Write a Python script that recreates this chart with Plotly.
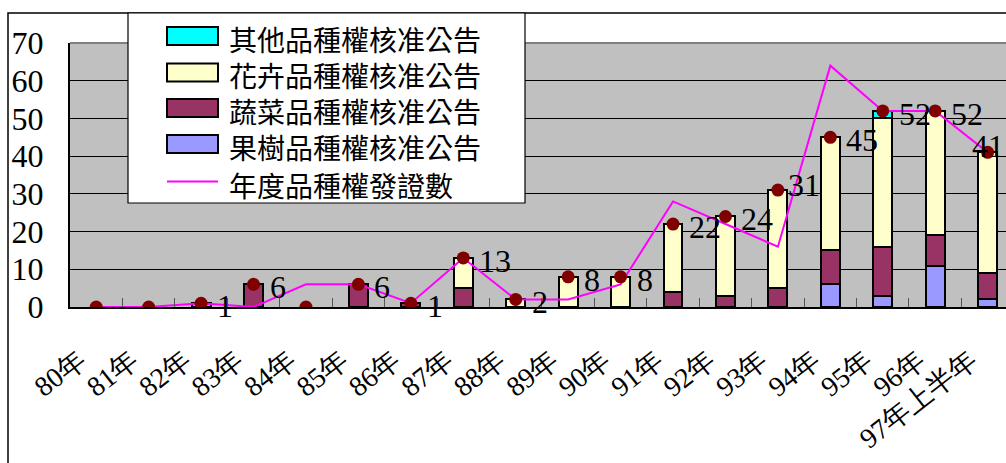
import plotly.graph_objects as go

# 年度別品種權核准公告 (80年 ~ 97年上半年)
years = ["80年", "81年", "82年", "83年", "84年", "85年", "86年", "87年", "88年",
         "89年", "90年", "91年", "92年", "93年", "94年", "95年", "96年", "97年上半年"]
fruit = [0, 0, 1, 0, 0, 0, 0, 0, 0, 0, 0, 0, 0, 0, 6, 3, 11, 2]        # 果樹
vegetable = [0, 0, 0, 6, 0, 6, 1, 5, 0, 0, 0, 4, 3, 5, 9, 13, 8, 7]    # 蔬菜
flower = [0, 0, 0, 0, 0, 0, 0, 8, 2, 8, 8, 18, 21, 26, 30, 34, 33, 32]  # 花卉
other = [0, 0, 0, 0, 0, 0, 0, 0, 0, 0, 0, 0, 0, 0, 0, 2, 0, 0]          # 其他
certificates = [0, 0, 1, 0, 6, 6, 1, 13, 2, 2, 6, 28, 22, 16, 64, 52, 52, 41]  # 年度品種權發證數

series_names = ["果樹品種權核准公告", "蔬菜品種權核准公告", "花卉品種權核准公告", "其他品種權核准公告"]
line_name = "年度品種權發證數"

totals = [a + b + c + d for a, b, c, d in zip(fruit, vegetable, flower, other)]

W, H = 1006, 463
ML, MT, MB = 70, 43, 156
PW, PH = W - ML, H - MT - MB

SERIF = "Liberation Serif, Times New Roman, DejaVu Serif, serif"
CJK = "Noto Sans CJK TC"
colors = ["#9999FF", "#993366", "#FFFFCC", "#00FFFF"]


def px(x):
    return (x - ML) / PW


def py(y):
    return (MT + PH - y) / PH


def nz(vals):
    return [v if v else None for v in vals]


fig = go.Figure()
for name, vals, col in zip(series_names, [fruit, vegetable, flower, other], colors):
    fig.add_trace(go.Bar(
        x=years, y=nz(vals), name=name, width=0.36,
        marker=dict(color=col, line=dict(color="black", width=2)),
    ))

fig.add_trace(go.Scatter(
    x=years, y=certificates, name=line_name, mode="lines",
    line=dict(color="#FF00FF", width=2),
))
fig.add_trace(go.Scatter(
    x=years, y=totals, mode="markers", showlegend=False,
    marker=dict(color="#800000", size=13),
))

# value labels beside the total markers
label_nudge = {"93年": (-6, 8), "97年上半年": (-32, 9)}
annotations = []
for yr, t in zip(years, totals):
    if t == 0:
        continue
    dx, dy = label_nudge.get(yr, (0, 0))
    annotations.append(dict(
        x=yr, y=t, xref="x", yref="y", text=str(t), showarrow=False,
        xanchor="left", yanchor="middle", xshift=15 + dx, yshift=-3 + dy,
        borderpad=0, font=dict(family=SERIF, size=32, color="black"),
    ))

# legend box
LX0, LX1, LY0, LY1 = 128, 525, 13, 203
shapes = [
    dict(type="rect", xref="paper", yref="paper", x0=px(8), x1=px(1012), y0=py(13), y1=py(470),
         line=dict(color="black", width=1.5), fillcolor="rgba(0,0,0,0)", layer="above"),
    dict(type="line", xref="paper", yref="paper", x0=0, x1=1, y0=1, y1=1,
         line=dict(color="#808080", width=2), layer="above"),
    dict(type="rect", xref="paper", yref="paper", x0=px(LX0), x1=px(LX1), y0=py(LY0), y1=py(LY1),
         line=dict(color="black", width=1.2), fillcolor="white", layer="above"),
]
legend_rows = [
    (series_names[3], colors[3], 36),
    (series_names[2], colors[2], 72.5),
    (series_names[1], colors[1], 108),
    (series_names[0], colors[0], 144),
]
for name, col, cy in legend_rows:
    shapes.append(dict(type="rect", xref="paper", yref="paper",
                       x0=px(167), x1=px(218), y0=py(cy - 9), y1=py(cy + 9),
                       fillcolor=col, line=dict(color="black", width=2), layer="above"))
    annotations.append(dict(x=px(228), y=py(cy + 3), xref="paper", yref="paper", text=name,
                            showarrow=False, xanchor="left", yanchor="middle",
                            height=30, borderpad=0,
                            font=dict(family=CJK, size=28, color="black")))
shapes.append(dict(type="line", xref="paper", yref="paper", x0=px(167), x1=px(218),
                   y0=py(181.5), y1=py(181.5), line=dict(color="#FF00FF", width=2), layer="above"))
annotations.append(dict(x=px(228), y=py(184.5), xref="paper", yref="paper", text=line_name,
                        showarrow=False, xanchor="left", yanchor="middle",
                        height=30, borderpad=0,
                        font=dict(family=CJK, size=28, color="black")))

fig.update_layout(
    width=W, height=H,
    margin=dict(l=ML, r=0, t=MT, b=MB, pad=0, autoexpand=False),
    paper_bgcolor="white", plot_bgcolor="#C0C0C0",
    barmode="stack", bargap=0.6, showlegend=False,
    shapes=shapes, annotations=annotations,
    xaxis=dict(
        type="category", range=[-0.5, 17.35], automargin=False,
        showline=True, linecolor="black", linewidth=1.5,
        ticks="inside", ticklen=9, tickcolor="#555555", tickson="boundaries",
        tickangle=-38, tickfont=dict(family=SERIF, size=28, color="black"),
        ticklabelshift=-17, ticklabelstandoff=24,
        showgrid=False,
    ),
    yaxis=dict(
        range=[0, 70], dtick=10, showgrid=True, gridcolor="black", gridwidth=1,
        automargin=False,
        showline=True, linecolor="black", linewidth=2, zeroline=False,
        ticks="", tickfont=dict(family=SERIF, size=32, color="black"),
        ticklabelstandoff=18,
    ),
)

fig.write_html("out.html")
